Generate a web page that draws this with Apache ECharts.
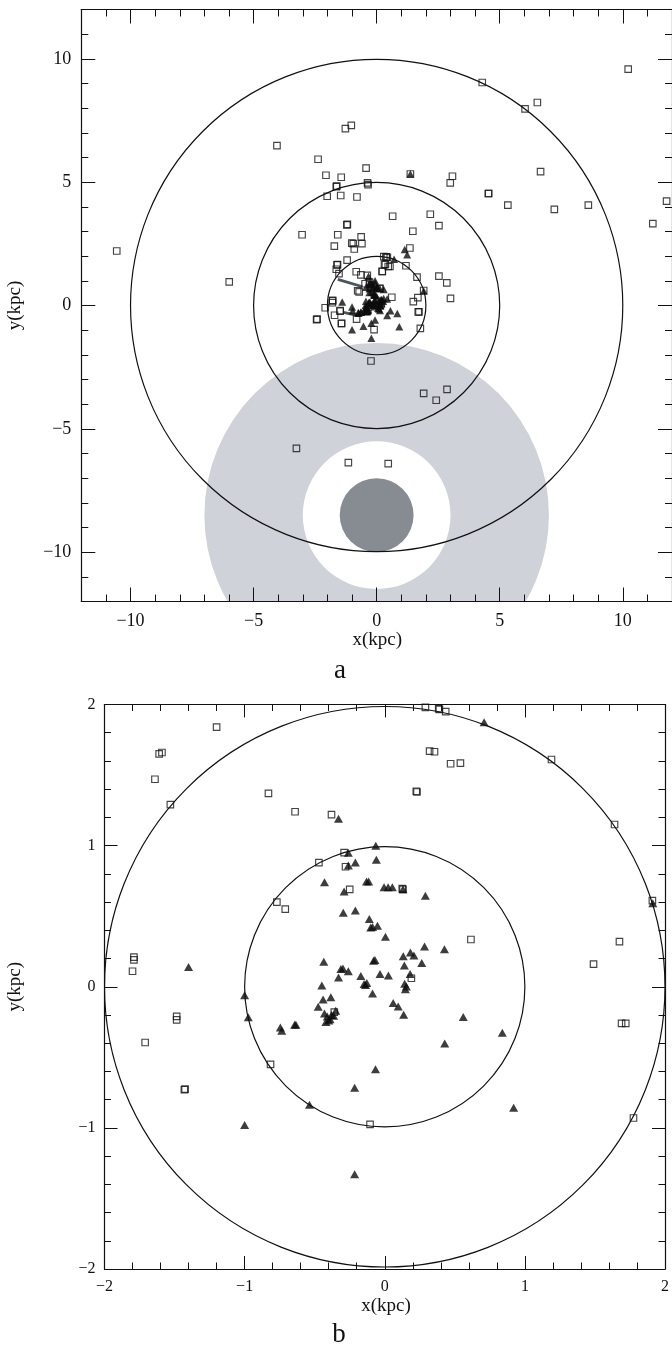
<!DOCTYPE html>
<html>
<head>
<meta charset="utf-8">
<script src="https://cdn.jsdelivr.net/npm/echarts@6/dist/echarts.min.js"></script>
<style>
  html, body { margin: 0; padding: 0; background: #fff; }
  #chart { width: 672px; height: 1347px; }
</style>
</head>
<body>
<div id="chart"></div>
<script>
// Open squares: x, y in kpc
const squares = [
  [-1.20, 1.84], [-1.59, 1.66], [-1.61, 1.65], [-1.64, 1.47], [-1.53, 1.29],
  [-0.83, 1.37], [-0.64, 1.24], [-0.38, 1.22], [-0.29, 0.95], [-0.47, 0.88],
  [-0.28, 0.85], [-0.25, 0.69], [-0.77, 0.60], [-0.71, 0.55], [-1.79, 0.21],
  [-1.79, 0.19], [-1.80, 0.11], [0.29, 1.98], [0.385, 1.97], [0.39, 1.965],
  [0.435, 1.95], [0.32, 1.67], [0.355, 1.665], [0.47, 1.58], [0.54, 1.585],
  [0.225, 1.385], [0.23, 1.38], [1.19, 1.61], [1.64, 1.15], [1.91, 0.61],
  [0.13, 0.69], [0.125, 0.695], [0.615, 0.335], [1.675, 0.32], [1.49, 0.16],
  [0.19, 0.06], [-0.36, -0.18], [-1.485, -0.21], [-1.485, -0.235], [-1.71, -0.395],
  [-1.43, -0.73], [-1.425, -0.725], [-0.815, -0.55], [-0.105, -0.975], [1.69, -0.26],
  [1.72, -0.26], [1.775, -0.93],
  [10.22, 9.58], [4.29, 9.04], [6.03, 7.97], [6.53, 8.23], [-1.27, 7.17],
  [-1.03, 7.30], [-4.05, 6.48], [-2.38, 5.93], [-2.06, 5.28], [-1.44, 5.20],
  [-0.43, 5.57], [-1.64, 4.82], [-1.62, 4.84], [-0.37, 4.97], [-0.35, 4.90],
  [1.37, 5.33], [3.08, 5.24], [2.99, 4.97], [4.54, 4.53], [4.55, 4.55],
  [5.33, 4.07], [6.66, 5.43], [7.22, 3.90], [8.60, 4.07], [11.78, 4.23],
  [11.22, 3.32], [-2.01, 4.43], [-1.46, 4.46], [-0.80, 4.40], [0.65, 3.62],
  [2.18, 3.70], [2.53, 3.24], [1.47, 3.01], [-1.21, 3.27], [-1.19, 3.29],
  [-3.03, 2.87], [-1.58, 2.87], [-0.63, 2.78], [-1.01, 2.53], [-0.95, 2.51],
  [-0.60, 2.51], [-1.72, 2.41], [-0.91, 2.29], [1.35, 2.33], [-10.56, 2.21],
  [-5.99, 0.96], [2.53, 1.19], [2.85, 0.92], [3.00, 0.29], [-2.09, -0.09],
  [-2.44, -0.57], [-2.42, -0.55], [-0.23, -2.25], [1.91, -3.56], [2.42, -3.84],
  [2.86, -3.40], [-3.26, -5.79], [-1.15, -6.37], [0.47, -6.41]
];

// Filled triangles: x, y in kpc
const triangles = [
  [-0.33, 1.19], [-0.064, 1.00], [-0.06, 0.90], [-0.26, 0.95], [-0.26, 0.86],
  [-0.21, 0.88], [-0.43, 0.74], [-0.13, 0.745], [-0.115, 0.745], [-0.29, 0.675],
  [-0.005, 0.705], [0.024, 0.705], [0.054, 0.705], [0.13, 0.69], [0.29, 0.645],
  [-0.296, 0.525], [-0.21, 0.54], [-0.11, 0.48], [-0.10, 0.42], [-0.087, 0.423],
  [-0.052, 0.433], [0.005, 0.355], [0.284, 0.285], [0.426, 0.266], [0.183, 0.243],
  [0.132, 0.217], [0.208, 0.221], [0.264, 0.168], [0.14, 0.15], [-1.40, 0.14],
  [-0.435, 0.177], [-0.08, 0.184], [-0.07, 0.19], [-0.313, 0.125], [-0.298, 0.13],
  [-0.26, 0.11], [-0.33, 0.065], [-0.171, 0.076], [-0.034, 0.091], [0.026, 0.08],
  [0.181, 0.09], [-0.147, 0.019], [-0.128, 0.026], [-0.137, 0.012], [-0.449, 0.008],
  [0.142, 0.022], [0.154, 0.002], [0.147, -0.017], [-0.087, -0.047], [0.06, -0.115],
  [0.096, -0.14], [0.135, -0.199], [0.56, -0.214], [-0.44, -0.09], [-0.385, -0.075],
  [-0.475, -0.142], [-0.43, -0.19], [-0.41, -0.21], [-0.40, -0.24], [-0.38, -0.20],
  [-0.35, -0.17], [-0.42, -0.25], [-0.39, -0.23], [-0.365, -0.205], [-0.643, -0.27],
  [-0.634, -0.27], [-0.745, -0.288], [-0.735, -0.312], [-1.00, -0.06], [-0.974, -0.217],
  [-0.066, -0.584], [-0.215, -0.716], [-0.537, -0.837], [-1.00, -0.979], [-0.215, -1.329],
  [0.839, -0.326], [0.428, -0.402], [0.92, -0.858], [0.709, 1.875], [1.913, 0.591],
  [1.14, 2.27], [1.24, 2.06], [1.37, 5.33]
];

// Grey track segments in the overview panel: [start, end] in kpc
const tracks = [
  [[-1.58, 1.06], [-0.57, 0.76]],
  [[-1.35, -0.28], [-0.70, -0.42]]
];

// Reference circles about the origin (kpc)
const ringsA = [2, 5, 10];
const ringsB = [1, 2];

// Solar neighbourhood zone: centre, inner/outer radius of the shaded annulus, disc radius
const solarCenter = [0, -8.5];
const zoneRadii = [3, 7];
const sunRadius = 1.5;

// Axis ranges and labelled tick values
const rangeA = [-12, 12];
const rangeB = [-2, 2];
const ticksA = [-10, -5, 0, 5, 10];
const ticksB = [-2, -1, 0, 1, 2];

const FONT = '"Liberation Serif", "DejaVu Serif", serif';
const INK = '#111';

const GA = { left: 81.3, top: 9.5, size: 592 };
const GB = { left: 104.5, top: 704.5, w: 563, h: 564.5 };

const fmt = v => (v < 0 ? '\u2212' + Math.abs(v) : String(v));

// Four axes per side pair: a minor-tick axis (with labels on the primary side)
// and a major-tick overlay, mirrored on the opposite side.
function axisSet(gridIndex, range, step, majors, sides, labelSize, labelMargin, majorLen, minorLen) {
  const list = [];
  sides.forEach((pos, k) => {
    list.push({
      gridIndex, type: 'value', min: range[0], max: range[1], interval: step,
      position: pos, z: 10,
      axisLine: { show: true, onZero: false, lineStyle: { color: INK, width: 1.2 } },
      axisTick: { show: true, inside: true, length: minorLen, lineStyle: { color: INK, width: 1 } },
      axisLabel: k === 0
        ? { show: true, customValues: majors, formatter: fmt, margin: labelMargin,
            fontFamily: FONT, fontSize: labelSize, color: INK }
        : { show: false },
      splitLine: { show: false }
    });
    list.push({
      gridIndex, type: 'value', min: range[0], max: range[1],
      position: pos, z: 10,
      axisLine: { show: false, onZero: false },
      axisTick: { show: true, inside: true, customValues: majors, length: majorLen,
                  lineStyle: { color: INK, width: 1 } },
      axisLabel: { show: false },
      splitLine: { show: false }
    });
  });
  return list;
}

const xAxes = [
  ...axisSet(0, rangeA, 1, ticksA, ['bottom', 'top'], 18, 11, 14, 7),
  ...axisSet(1, rangeB, 0.2, ticksB, ['bottom', 'top'], 16, 10, 13, 6.5)
];
const yAxes = [
  ...axisSet(0, rangeA, 1, ticksA, ['left', 'right'], 18, 10, 14, 7),
  ...axisSet(1, rangeB, 0.2, ticksB, ['left', 'right'], 16, 9, 13, 6.5)
];

function circleSeries(axisIdx, radii) {
  return {
    type: 'custom', xAxisIndex: axisIdx, yAxisIndex: axisIdx, clip: true, z: 3, silent: true,
    data: radii.map(r => [0, 0, r]),
    renderItem: (params, api) => {
      const c = api.coord([api.value(0), api.value(1)]);
      const r = api.size([api.value(2), 0])[0];
      return { type: 'circle', shape: { cx: c[0], cy: c[1], r },
               style: { fill: 'none', stroke: INK, lineWidth: 1.2 } };
    }
  };
}

function scatterPair(axisIdx, sqSize, triSize) {
  return [
    {
      type: 'scatter', xAxisIndex: axisIdx, yAxisIndex: axisIdx, clip: true, z: 5, silent: true,
      data: squares, symbol: 'rect', symbolSize: sqSize,
      itemStyle: { color: 'rgba(255,255,255,0)', borderColor: '#151515', borderWidth: 1.15 }
    },
    {
      type: 'scatter', xAxisIndex: axisIdx, yAxisIndex: axisIdx, clip: true, z: 6, silent: true,
      data: triangles, symbol: 'triangle', symbolSize: triSize,
      itemStyle: { color: '#0d0d0d' }
    }
  ];
}

const series = [
  {
    // shaded annulus and disc around the solar position
    type: 'custom', xAxisIndex: 0, yAxisIndex: 0, clip: true, z: 1, silent: true,
    data: [[solarCenter[0], solarCenter[1], zoneRadii[0], zoneRadii[1], sunRadius]],
    renderItem: (params, api) => {
      const c = api.coord([api.value(0), api.value(1)]);
      const px = v => api.size([v, 0])[0];
      return {
        type: 'group',
        children: [
          { type: 'ring', shape: { cx: c[0], cy: c[1], r: px(api.value(3)), r0: px(api.value(2)) },
            style: { fill: '#cfd2d8' } },
          { type: 'circle', shape: { cx: c[0], cy: c[1], r: px(api.value(4)) },
            style: { fill: '#878c92' } }
        ]
      };
    }
  },
  circleSeries(0, ringsA),
  {
    type: 'lines', coordinateSystem: 'cartesian2d', xAxisIndex: 0, yAxisIndex: 0, z: 4, silent: true,
    data: tracks.map(c => ({ coords: c })),
    lineStyle: { color: '#4a5659', width: 2.8, opacity: 1, curveness: 0 }
  },
  ...scatterPair(0, 6.5, [8, 7.5]),
  circleSeries(4, ringsB),
  ...scatterPair(4, 6.5, [9, 8])
];

const textStyle = (size) => ({ font: size + 'px ' + FONT, fill: INK,
  textAlign: 'center', textVerticalAlign: 'middle', align: 'center', verticalAlign: 'middle' });

const graphic = [
  { type: 'text', x: GA.left + GA.size / 2, y: GA.top + GA.size + 38.5, style: { text: 'x(kpc)', ...textStyle(19) } },
  { type: 'text', x: 340, y: GA.top + GA.size + 69, style: { text: 'a', ...textStyle(27) } },
  { type: 'text', x: 15, y: GA.top + GA.size / 2, rotation: Math.PI / 2, style: { text: 'y(kpc)', ...textStyle(19) } },
  { type: 'text', x: GB.left + GB.w / 2, y: GB.top + GB.h + 37, style: { text: 'x(kpc)', ...textStyle(19) } },
  { type: 'text', x: 339, y: GB.top + GB.h + 66, style: { text: 'b', ...textStyle(27) } },
  { type: 'text', x: 15, y: GB.top + GB.h / 2, rotation: Math.PI / 2, style: { text: 'y(kpc)', ...textStyle(19) } }
];

const chart = echarts.init(document.getElementById('chart'), null, { renderer: 'canvas' });
chart.setOption({
  animation: false,
  backgroundColor: '#fff',
  grid: [
    { left: GA.left, top: GA.top, width: GA.size, height: GA.size },
    { left: GB.left, top: GB.top, width: GB.w, height: GB.h }
  ],
  xAxis: xAxes,
  yAxis: yAxes,
  series,
  graphic
});
</script>
</body>
</html>
